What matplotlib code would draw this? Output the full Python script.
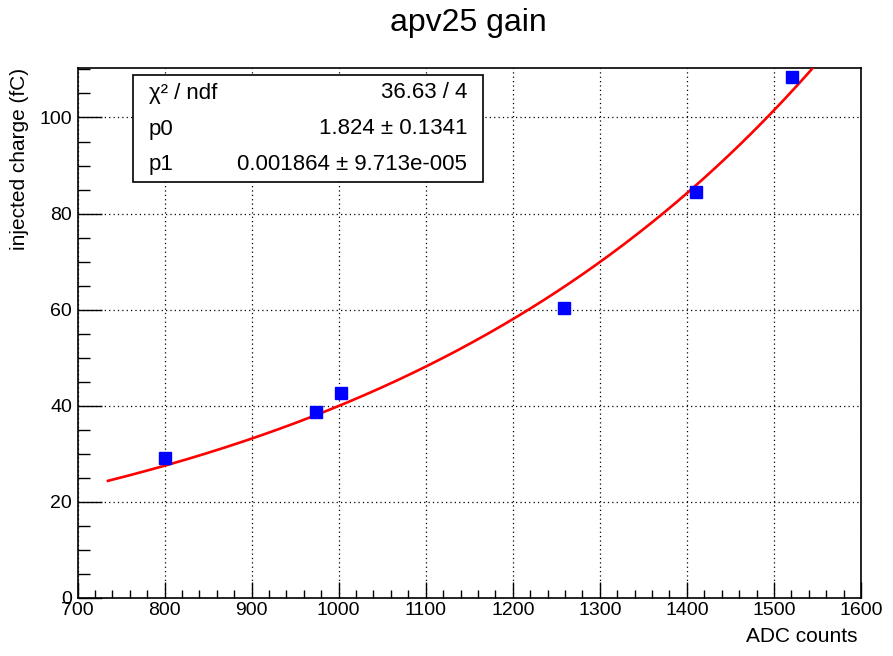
import numpy as np
import matplotlib
matplotlib.use("Agg")
import matplotlib.pyplot as plt
from matplotlib.ticker import MultipleLocator
from matplotlib.patches import Rectangle

plt.rcParams['font.family'] = ['Liberation Sans', 'DejaVu Sans']

# data
adc = [801, 974.5, 1003, 1259, 1410.5, 1520.5]
charge = [29.2, 38.7, 42.7, 60.4, 84.4, 108.4]
# fit parameters (expo: exp(p0 + p1*x))
p0 = 1.824
p1 = 0.001864
fit_xmin, fit_xmax = 735, 1600
stats_rows = [("χ² / ndf", "36.63 / 4"),
              ("p0", "1.824 ± 0.1341"),
              ("p1", "0.001864 ± 9.713e-005")]

W, H = 893, 656
fig = plt.figure(figsize=(W/100, H/100), dpi=100)
L, R, T, B = 77.5, 861, 68, 598
ax = fig.add_axes([L/W, 1-B/H, (R-L)/W, (B-T)/H])

xf = np.linspace(fit_xmin, fit_xmax, 400)
ax.plot(xf, np.exp(p0 + p1*xf), color='#ff0000', lw=1.9, zorder=3)
ax.plot(adc, charge, 's', color='#0000ff', ms=9, mec='#0000ff', zorder=4, clip_on=False)

ax.set_xlim(700, 1600)
ax.set_ylim(0, 110.3)
ax.xaxis.set_major_locator(MultipleLocator(100))
ax.xaxis.set_minor_locator(MultipleLocator(20))
ax.yaxis.set_major_locator(MultipleLocator(20))
ax.yaxis.set_minor_locator(MultipleLocator(5))
ax.tick_params(axis='x', which='major', direction='in', length=16/1.389, width=1, labelsize=14, pad=3)
ax.tick_params(axis='x', which='minor', direction='in', length=8/1.389, width=1)
ax.tick_params(axis='y', which='major', direction='in', length=24/1.389, width=1, labelsize=14, pad=4)
ax.tick_params(axis='y', which='minor', direction='in', length=12/1.389, width=1)
ax.grid(True, which='major', color='black', linestyle=(0, (1, 2.5)), lw=0.9)
for s in ax.spines.values():
    s.set_linewidth(1.2)

fig.text(468/W, 1-23/H, "apv25 gain", ha='center', va='center', fontsize=23)
fig.text(857/W, 1-636/H, "ADC counts", ha='right', va='center', fontsize=15)
fig.text(20/W, 1-68/H, "injected charge (fC)", ha='center', va='top', rotation=90, fontsize=15)

# stats box
bx0, by0, bx1, by1 = 133, 75, 483, 182
fig.patches.append(Rectangle((bx0/W, 1-by1/H), (bx1-bx0)/W, (by1-by0)/H,
                             transform=fig.transFigure, facecolor='white',
                             edgecolor='black', lw=1.2, zorder=5))
rows_y = [93, 129, 165]
for (lab, val), yy in zip(stats_rows, rows_y):
    fig.text(149/W, 1-yy/H, lab, ha='left', va='center', fontsize=16, zorder=6)
    fig.text(467/W, 1-yy/H, val, ha='right', va='center', fontsize=16, zorder=6)

fig.savefig("out.png", dpi=100)
